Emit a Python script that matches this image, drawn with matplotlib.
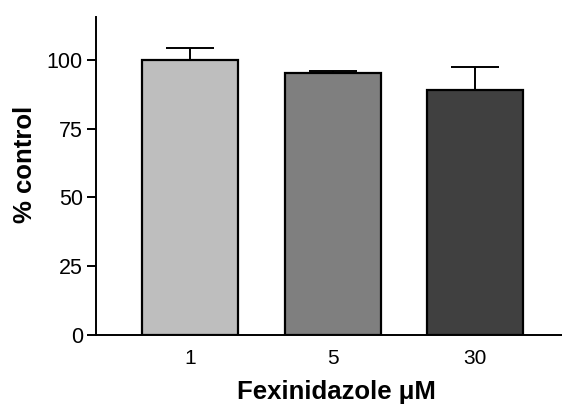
import matplotlib
matplotlib.use("Agg")
import matplotlib.pyplot as plt
import numpy as np

plt.rcParams['font.family'] = ['Liberation Sans', 'DejaVu Sans']

# data
doses = ["1", "5", "30"]
pct_control = [100.0, 95.1, 89.1]
sem = [4.3, 0.9, 8.1]
bar_colors = ["#bebebe", "#7f7f7f", "#404040"]

fig = plt.figure(figsize=(5.62, 4.05), dpi=100)
ax = fig.add_axes([0.1708, 0.1728, 0.8292, 0.785])

x = np.arange(len(doses))
ax.bar(x, pct_control, width=0.674, color=bar_colors, edgecolor="black",
       linewidth=1.6, zorder=2)
ax.errorbar(x, pct_control, yerr=[np.zeros(len(sem)), sem], fmt="none",
            ecolor="black", elinewidth=1.4, capsize=17, capthick=1.4, zorder=1)

ax.set_xlim(-0.66, 2.61)
ax.set_ylim(0, 115.5)
ax.set_yticks([0, 25, 50, 75, 100])
ax.set_xticks(x)
ax.set_xticklabels(doses)

ax.spines["top"].set_visible(False)
ax.spines["right"].set_visible(False)
for s in ["left", "bottom"]:
    ax.spines[s].set_linewidth(1.4)

ax.tick_params(axis="y", length=6.5, width=1.4, labelsize=15.5, pad=3)
ax.tick_params(axis="x", length=0, labelsize=15, pad=10)

ax.set_xlabel("Fexinidazole μM", fontsize=18.5, fontweight="bold", labelpad=9)
ax.xaxis.set_label_coords(0.517, -0.143)
ax.set_ylabel("% control", fontsize=18.5, fontweight="bold", labelpad=8)
ax.yaxis.set_label_coords(-0.126, 0.538)

fig.savefig("out.png", dpi=100)
